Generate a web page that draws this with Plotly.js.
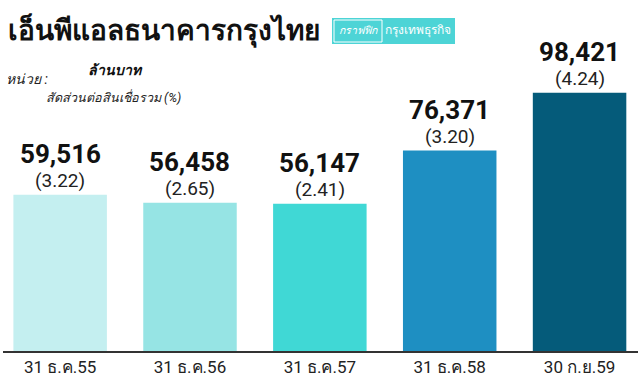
<!DOCTYPE html>
<html><head><meta charset="utf-8">
<script src="https://cdn.plot.ly/plotly-3.0.1.min.js"></script>
<style>body{margin:0;background:#fff}#c{width:640px;height:390px}</style>
</head><body><div id="c"></div>
<script>
const categories = ["31 ธ.ค.55","31 ธ.ค.56","31 ธ.ค.57","31 ธ.ค.58","30 ก.ย.59"];
const nplValues = [59516, 56458, 56147, 76371, 98421];
const nplRatio = ["3.22","2.65","2.41","3.20","4.24"];
const barColors = ["#c4eff0","#96e4e4","#40d8d5","#1e8fc2","#055b7a"];

const W=640,H=390,L=3,R=2,T=60,B=39;
const pw=W-L-R, ph=H-T-B;
const px=x=>(x-L)/pw, py=y=>1-(y-T)/ph;
const FONT="Roboto,'DejaVu Sans Condensed',sans-serif";

const fmt=v=>v.toLocaleString('en-US');
const ann=[];
categories.forEach((c,i)=>{
  ann.push({x:c,y:nplValues[i],xref:'x',yref:'y',text:'<b>'+fmt(nplValues[i])+'</b>',showarrow:false,
    yanchor:'middle',yshift:41,font:{family:FONT,size:26,color:'#111'}});
  ann.push({x:c,y:nplValues[i],xref:'x',yref:'y',text:'('+nplRatio[i]+')',showarrow:false,
    yanchor:'middle',yshift:14,font:{family:FONT,size:19,color:'#222'}});
});
// title
ann.push({xref:'paper',yref:'paper',x:px(6),y:py(31),xanchor:'left',yanchor:'middle',showarrow:false,
  text:'<b>เอ็นพีแอลธนาคารกรุงไทย</b>',font:{family:FONT,size:28,color:'#111'}});
ann.push({xref:'paper',yref:'paper',x:px(358),y:py(31),xanchor:'center',yanchor:'middle',showarrow:false,
  text:'<i>กราฟฟิก</i>',font:{family:FONT,size:10.5,color:'#fff'}});
ann.push({xref:'paper',yref:'paper',x:px(418),y:py(31),xanchor:'center',yanchor:'middle',showarrow:false,
  text:'กรุงเทพธุรกิจ',font:{family:FONT,size:12,color:'#fff'}});
// unit
ann.push({xref:'paper',yref:'paper',x:px(4),y:py(79),xanchor:'left',yanchor:'middle',showarrow:false,
  text:'<i>หน่วย :</i>',font:{family:FONT,size:14,color:'#222'}});
ann.push({xref:'paper',yref:'paper',x:px(86),y:py(70),xanchor:'left',yanchor:'middle',showarrow:false,
  text:'<b><i>ล้านบาท</i></b>',font:{family:FONT,size:14,color:'#111'}});
ann.push({xref:'paper',yref:'paper',x:px(44),y:py(97),xanchor:'left',yanchor:'middle',showarrow:false,
  text:'<i>สัดส่วนต่อสินเชื่อรวม (%)</i>',font:{family:FONT,size:12.5,color:'#222'}});

const shapes=[
  {type:'rect',xref:'paper',yref:'paper',x0:px(332),x1:px(455),y0:py(44),y1:py(18),fillcolor:'#4dd4d6',line:{width:0}},
  {type:'rect',xref:'paper',yref:'paper',x0:px(334),x1:px(382),y0:py(42),y1:py(20),fillcolor:'rgba(0,0,0,0)',line:{width:1,color:'#fff'}}
];

Plotly.newPlot('c',[{
  type:'bar',x:categories,y:nplValues,width:0.72,
  marker:{color:barColors,line:{width:0}},hoverinfo:'none'
}],{
  width:W,height:H,margin:{l:L,r:R,t:T,b:B},
  paper_bgcolor:'#fff',plot_bgcolor:'#fff',showlegend:false,
  xaxis:{range:[-0.44,4.45],showline:true,linecolor:'#333',linewidth:2,ticks:'',showgrid:false,
    tickfont:{family:FONT,size:17,color:'#222'},fixedrange:true},
  yaxis:{range:[0,ph*381],visible:false,showgrid:false,zeroline:false},
  annotations:ann,shapes:shapes
},{staticPlot:true});
</script></body></html>
